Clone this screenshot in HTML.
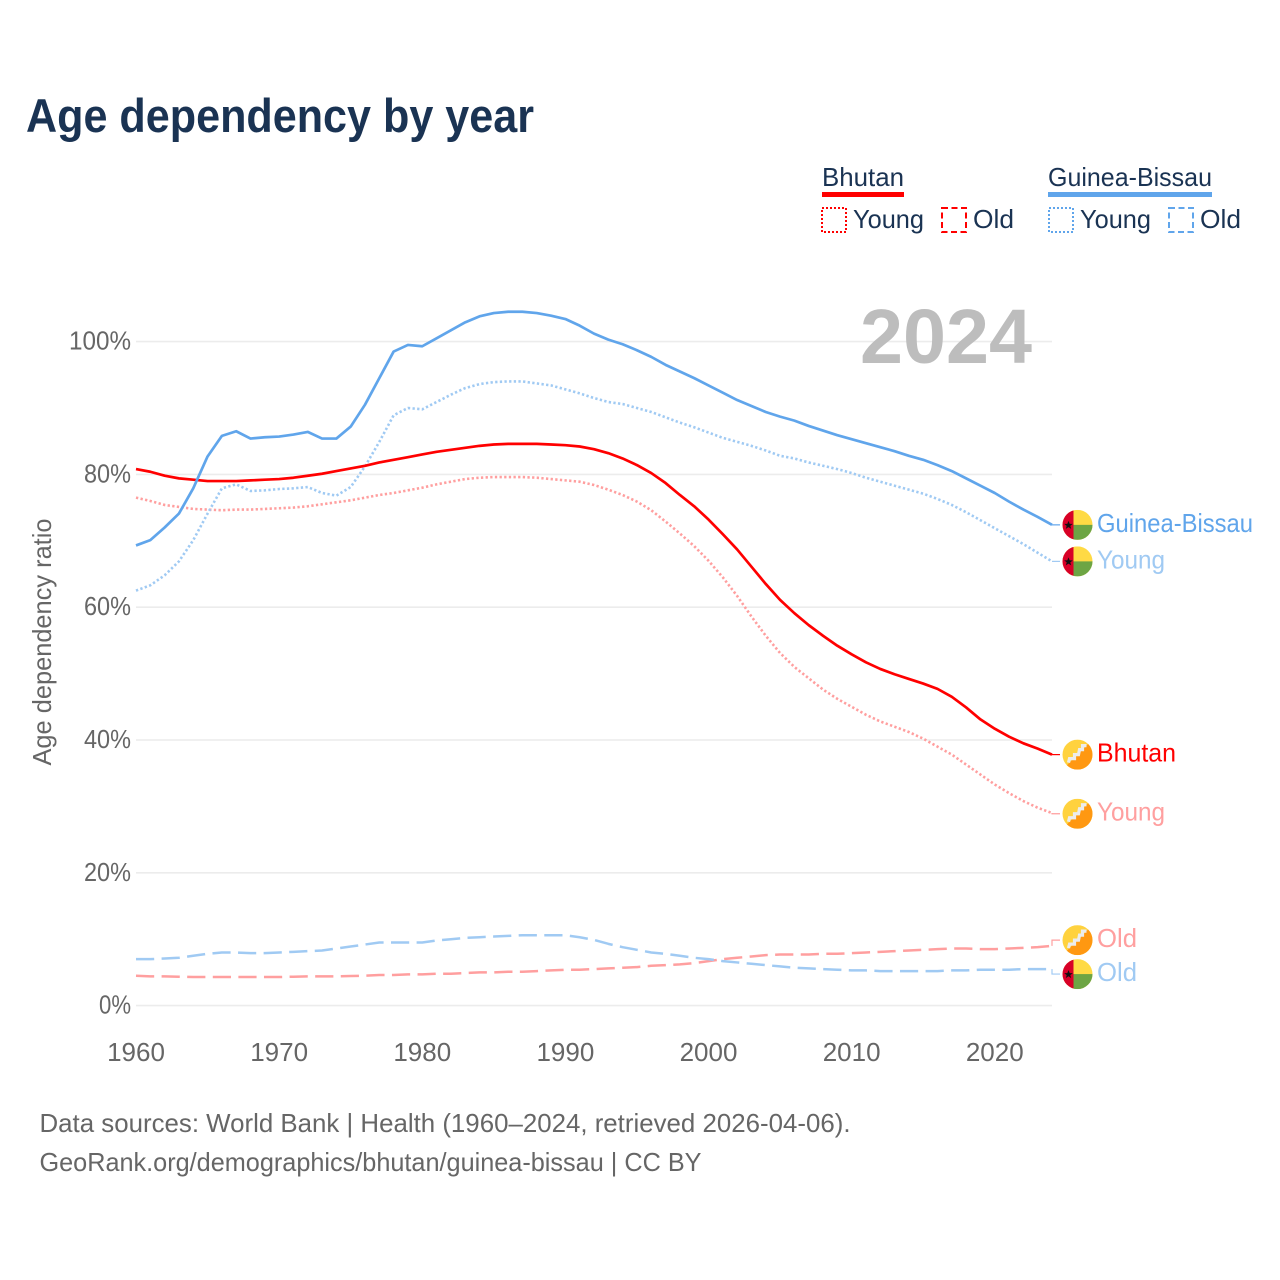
<!DOCTYPE html>
<html lang="en">
<head>
<meta charset="utf-8">
<title>Age dependency by year</title>
<style>
html,body{margin:0;padding:0;background:#fff;width:1280px;height:1280px;overflow:hidden}
svg{display:block}
text{font-family:"Liberation Sans",sans-serif}
</style>
</head>
<body>
<svg id="chart" xmlns="http://www.w3.org/2000/svg" width="1280" height="1280" viewBox="0 0 1280 1280">
  <rect width="1280" height="1280" fill="#fff"/>
  <text x="26" y="132" font-size="47" font-weight="700" fill="#1a3353" textLength="508" lengthAdjust="spacingAndGlyphs">Age dependency by year</text>

  <g font-size="26" fill="#1a3353">
    <text x="822" y="186" textLength="82" lengthAdjust="spacingAndGlyphs">Bhutan</text>
    <rect x="822" y="192" width="82" height="5" fill="#ff0000"/>
    <rect x="822" y="208" width="24" height="24" fill="none" stroke="#ff0000" stroke-width="2" stroke-dasharray="2 2"/>
    <text x="853" y="228" textLength="71" lengthAdjust="spacingAndGlyphs">Young</text>
    <rect x="942" y="208" width="24" height="24" fill="none" stroke="#ff0000" stroke-width="2" stroke-dasharray="6 3.5"/>
    <text x="973" y="228" textLength="41" lengthAdjust="spacingAndGlyphs">Old</text>

    <text x="1048" y="186" textLength="164" lengthAdjust="spacingAndGlyphs">Guinea-Bissau</text>
    <rect x="1048" y="192" width="164" height="5" fill="#60a5eb"/>
    <rect x="1049" y="208" width="24" height="24" fill="none" stroke="#60a5eb" stroke-width="2" stroke-dasharray="2 2"/>
    <text x="1080" y="228" textLength="71" lengthAdjust="spacingAndGlyphs">Young</text>
    <rect x="1169" y="208" width="24" height="24" fill="none" stroke="#60a5eb" stroke-width="2" stroke-dasharray="6 3.5"/>
    <text x="1200" y="228" textLength="41" lengthAdjust="spacingAndGlyphs">Old</text>
  </g>

  <g id="grid"></g>
  <g id="yticks" font-size="26" fill="#666"></g>
  <g id="xticks" font-size="26" fill="#666"></g>
  <text transform="translate(51,642) rotate(-90)" text-anchor="middle" font-size="26" fill="#666" textLength="247" lengthAdjust="spacingAndGlyphs">Age dependency ratio</text>
  <text x="860" y="363" font-size="77" font-weight="700" fill="#bdbdbd" textLength="172" lengthAdjust="spacingAndGlyphs">2024</text>

  <g id="series"></g>
  <g id="endlabels" font-size="26"></g>

  <text x="39.5" y="1132" font-size="26" fill="#666" textLength="811" lengthAdjust="spacingAndGlyphs">Data sources: World Bank | Health (1960–2024, retrieved 2026-04-06).</text>
  <text x="39.5" y="1171" font-size="26" fill="#666" textLength="662" lengthAdjust="spacingAndGlyphs">GeoRank.org/demographics/bhutan/guinea-bissau | CC BY</text>
</svg>

<script>
const startYear = 1960;
const xTickYears = [1960, 1970, 1980, 1990, 2000, 2010, 2020];
const yTickValues = [0, 20, 40, 60, 80, 100];

const guineaBissauTotal = [69.3,70.1,72.0,74.1,77.9,82.7,85.8,86.5,85.4,85.6,85.7,86.0,86.4,85.4,85.4,87.2,90.5,94.5,98.5,99.5,99.3,100.5,101.7,102.9,103.8,104.3,104.5,104.5,104.3,103.9,103.4,102.4,101.2,100.3,99.6,98.7,97.7,96.5,95.5,94.5,93.4,92.3,91.2,90.3,89.4,88.7,88.1,87.3,86.6,85.9,85.3,84.7,84.1,83.5,82.8,82.2,81.4,80.5,79.4,78.3,77.2,75.9,74.7,73.6,72.4];
const guineaBissauYoung = [62.5,63.3,64.8,66.9,70.1,74.1,77.9,78.5,77.5,77.6,77.8,77.9,78.1,77.2,76.8,78.1,81.2,84.9,88.9,90.0,89.8,90.9,92.0,93.0,93.6,93.9,94.0,94.0,93.7,93.4,92.8,92.2,91.5,90.9,90.6,90.0,89.4,88.6,87.8,87.1,86.3,85.5,84.9,84.3,83.6,82.8,82.4,81.8,81.3,80.8,80.2,79.5,78.9,78.3,77.7,77.1,76.3,75.4,74.3,73.1,71.9,70.7,69.5,68.2,66.9];
const guineaBissauOld = [7.0,7.0,7.1,7.2,7.5,7.8,8.0,8.0,7.9,7.9,8.0,8.1,8.2,8.3,8.6,8.9,9.2,9.5,9.5,9.5,9.5,9.8,10.0,10.2,10.3,10.4,10.5,10.6,10.6,10.6,10.6,10.3,9.9,9.3,8.8,8.4,8.0,7.8,7.5,7.2,7.0,6.7,6.5,6.3,6.1,5.9,5.7,5.6,5.5,5.4,5.3,5.3,5.2,5.2,5.2,5.2,5.2,5.3,5.3,5.4,5.4,5.4,5.5,5.5,5.5];
const bhutanTotal = [80.8,80.4,79.8,79.4,79.2,79.0,79.0,79.0,79.1,79.2,79.3,79.5,79.8,80.1,80.5,80.9,81.3,81.8,82.2,82.6,83.0,83.4,83.7,84.0,84.3,84.5,84.6,84.6,84.6,84.5,84.4,84.2,83.8,83.2,82.4,81.4,80.2,78.7,76.9,75.2,73.2,71.0,68.7,66.1,63.5,61.1,59.1,57.3,55.7,54.2,52.9,51.7,50.7,49.9,49.2,48.5,47.7,46.5,44.9,43.1,41.7,40.5,39.5,38.7,37.8];
const bhutanYoung = [76.5,76.0,75.4,75.1,74.8,74.7,74.6,74.7,74.7,74.8,74.9,75.0,75.2,75.5,75.8,76.1,76.5,76.9,77.2,77.6,78.0,78.5,78.9,79.3,79.5,79.6,79.6,79.6,79.5,79.3,79.1,78.9,78.4,77.7,76.9,75.9,74.6,72.9,71.1,69.2,67.0,64.5,61.7,58.6,55.7,53.1,51.0,49.3,47.6,46.2,45.0,43.8,42.8,42.0,41.2,40.2,39.0,37.8,36.3,34.8,33.3,32.0,30.8,29.8,29.0];
const bhutanOld = [4.5,4.4,4.4,4.35,4.3,4.3,4.3,4.3,4.3,4.3,4.3,4.35,4.4,4.4,4.4,4.45,4.5,4.6,4.6,4.7,4.7,4.8,4.8,4.9,5.0,5.0,5.1,5.1,5.2,5.3,5.4,5.4,5.5,5.6,5.7,5.8,6.0,6.1,6.2,6.4,6.7,7.0,7.2,7.4,7.6,7.7,7.7,7.7,7.8,7.8,7.9,8.0,8.1,8.2,8.3,8.4,8.5,8.6,8.6,8.5,8.5,8.6,8.7,8.8,9.0];

const NS = 'http://www.w3.org/2000/svg';
const plot = {left: 136, right: 1052, y0: 1005.6, y100: 341.6, endYear: 2024};
function xScale(year) { return plot.left + (year - startYear) * (plot.right - plot.left) / (plot.endYear - startYear); }
function yScale(v) { return plot.y0 + v * (plot.y100 - plot.y0) / 100; }
function make(tag, attrs, parent) {
  const el = document.createElementNS(NS, tag);
  for (const k in attrs) el.setAttribute(k, attrs[k]);
  parent.appendChild(el);
  return el;
}

/* gridlines and ticks */
const gridG = document.getElementById('grid');
const yTicksG = document.getElementById('yticks');
const xTicksG = document.getElementById('xticks');
yTickValues.forEach(function (v) {
  const line = make('line', {x1: plot.left, x2: plot.right, y1: yScale(v), y2: yScale(v), stroke: '#ececec', 'stroke-width': 1.6}, gridG);
  
  
  const label = String(v) + '%';
  const t = make('text', {x: 131, y: yScale(v) + 8, 'text-anchor': 'end', textLength: 15 * String(v).length + 17, lengthAdjust: 'spacingAndGlyphs'}, yTicksG);
  t.textContent = label;
  
  
});
xTickYears.forEach(function (yr) {
  const t = make('text', {x: xScale(yr), y: 1061, 'text-anchor': 'middle'}, xTicksG);
  t.textContent = String(yr);
  
  
});

/* series */
const BLUE = '#60a5eb', BLUE_PALE = '#a0caf3', RED = '#ff0000', RED_PALE = '#ff9f9f';
const DOT = '2.3 2.35', DASH = '18.2 7.4';
const seriesList = [
  {name: 'bhutan-old', values: bhutanOld, color: RED_PALE, dash: DASH, label: 'Old', flag: 'bt', nudge: -5.7, tl: 40, w: 2.5},
  {name: 'guinea-bissau-old', values: guineaBissauOld, color: BLUE_PALE, dash: DASH, label: 'Old', flag: 'gw', nudge: 5, tl: 40, w: 2.5},
  {name: 'bhutan-young', values: bhutanYoung, color: RED_PALE, dash: DOT, label: 'Young', flag: 'bt', nudge: 0.7, tl: 68, w: 2.6},
  {name: 'guinea-bissau-young', values: guineaBissauYoung, color: BLUE_PALE, dash: DOT, label: 'Young', flag: 'gw', nudge: 0, tl: 68, w: 2.6},
  {name: 'bhutan-total', values: bhutanTotal, color: RED, dash: null, label: 'Bhutan', flag: 'bt', nudge: 0, tl: 79, w: 2.7},
  {name: 'guinea-bissau-total', values: guineaBissauTotal, color: BLUE, dash: null, label: 'Guinea-Bissau', flag: 'gw', nudge: 0, tl: 156, w: 2.7}
];
const seriesG = document.getElementById('series');
const labelsG = document.getElementById('endlabels');

let clipCount = 0;
function drawFlag(kind, cx, cy, parent, seriesName) {
  clipCount += 1;
  const g = make('g', {transform: 'translate(' + cx + ',' + cy + ')'}, parent);
  
  
  const clipId = 'flag-clip-' + clipCount;
  const clip = make('clipPath', {id: clipId}, g);
  make('circle', {r: 15}, clip);
  const inner = make('g', {'clip-path': 'url(#' + clipId + ')'}, g);
  if (kind === 'gw') {
    make('rect', {x: -15, y: -15, width: 30, height: 30, fill: '#ffda44'}, inner);
    make('rect', {x: -4, y: 0, width: 19, height: 15, fill: '#6da544'}, inner);
    make('rect', {x: -15, y: -15, width: 11, height: 30, fill: '#d80027'}, inner);
    make('polygon', {points: '-9,-4 -7.8,-1 -4.7,-1 -7.2,1 -6.3,4 -9,2.2 -11.7,4 -10.8,1 -13.3,-1 -10.2,-1', fill: '#111'}, inner);
  } else {
    make('rect', {x: -15, y: -15, width: 30, height: 30, fill: '#ffd23e'}, inner);
    make('polygon', {points: '15,-15 15,15 -15,15', fill: '#ff9811'}, inner);
    make('polyline', {points: '-9,8 -8,4 -3,4 -3,0 1,0 2,-5 5,-5 5,-9 9,-9', fill: 'none', stroke: '#ececec', 'stroke-width': 3.2, 'stroke-linejoin': 'miter'}, inner);
  }
}

seriesList.forEach(function (s) {
  const d = s.values.map(function (v, i) {
    return (i ? 'L' : 'M') + xScale(startYear + i).toFixed(2) + ',' + yScale(v).toFixed(2);
  }).join(' ');
  const path = make('path', {d: d, fill: 'none', stroke: s.color, 'stroke-width': s.w, 'stroke-linejoin': 'round'}, seriesG);
  if (s.dash) path.setAttribute('stroke-dasharray', s.dash);
  
  

  const yEnd = yScale(s.values[s.values.length - 1]);
  const yLabel = yEnd + s.nudge;
  const conn = make('path', {d: 'M' + plot.right + ',' + yEnd + ' V' + yLabel + ' H1060', fill: 'none', stroke: s.color, 'stroke-width': 1.2}, labelsG);
  
  

  drawFlag(s.flag, 1077.5, yLabel, labelsG, s.name);

  const t = make('text', {x: 1097, y: yLabel + 7, fill: s.color, textLength: s.tl, lengthAdjust: 'spacingAndGlyphs'}, labelsG);
  t.textContent = s.label;
  
  
});
</script>
</body>
</html>
